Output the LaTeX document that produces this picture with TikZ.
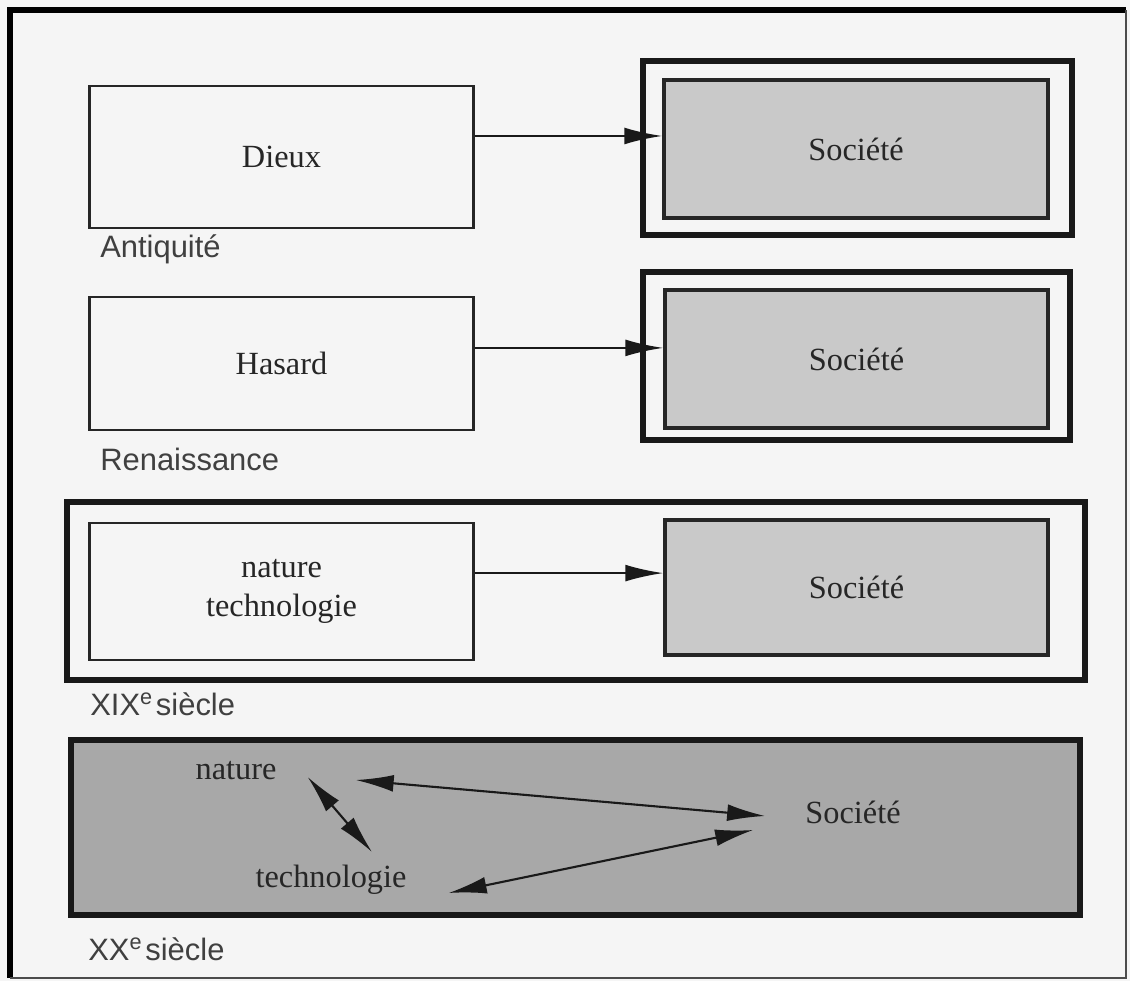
\documentclass[tikz,border=0pt]{standalone}
\usepackage{fontspec}
\setmainfont{Liberation Serif}
\newfontfamily\labelfont{Liberation Sans}
\usetikzlibrary{arrows.meta,calc}

\begin{document}
\begin{tikzpicture}[x=0.025cm, y=-0.025cm,
	box/.style={draw=black!85, line width=2.1pt, inner sep=0pt, text=black!85,
		font=\fontsize{23}{27.7}\selectfont, align=center},
	socbox/.style={box, line width=2.4pt, fill=black!21},
	frame/.style={draw=black!90, line width=3.8pt},
	era/.style={anchor=base west, inner sep=0pt, text=black!75,
		font=\labelfont\fontsize{22}{26}\selectfont},
	word/.style={inner sep=0pt, text=black!85, font=\fontsize{23}{28}\selectfont},
	arr/.style={-{Latex[length=27pt,width=12pt]}, line width=1.5pt, draw=black!90},
	dblarr/.style={{Latex[length=27pt,width=12pt]}-{Latex[length=27pt,width=12pt]},
		line width=1.5pt, draw=black!90}]

	% page
	\fill [black!4] (0,0) rectangle (1130,981);
	\draw [line width=4.3pt] (1126,10) -- (10,10) -- (10,978);
	\draw [line width=1.5pt, black!70] (10,978) -- (1126,978) -- (1126,10);

	% Antiquite
	\node [box, minimum width=9.575cm, minimum height=3.55cm] (dieux) at (281.5,157) {Dieux};
	\draw [frame] (643,61) rectangle (1072,235);
	\node [socbox, minimum width=9.6cm, minimum height=3.45cm] (soc1) at (856,149) {Société};
	\node [era] (ant) at (100,258) {Antiquité};
	\draw [arr] ([yshift=0.525cm]dieux.east) -- ([yshift=0.525cm]dieux.east -| soc1.west);

	% Renaissance
	\node [box, minimum width=9.575cm, minimum height=3.325cm] (hasard) at (281.5,363.5) {Hasard};
	\draw [frame] (643,272) rectangle (1070,440);
	\node [socbox, minimum width=9.575cm, minimum height=3.45cm] (soc2) at (856.5,359) {Société};
	\node [era] (ren) at (100,470) {Renaissance};
	\draw [arr] ([yshift=0.39cm]hasard.east) -- ([yshift=0.39cm]hasard.east -| soc2.west);

	% XIXe siecle
	\draw [frame] (67,502) rectangle (1085,680);
	\node [box, minimum width=9.575cm, minimum height=3.425cm] (natech) at (281.5,591.5) {nature\\technologie};
	\node [socbox, minimum width=9.575cm, minimum height=3.375cm] (soc3) at (856.5,587.5) {Société};
	\node [era] (xix) at (90,715) {XIX\textsuperscript{e}\hspace{0.1em}siècle};
	\draw [arr] ([yshift=0.46cm]natech.east) -- ([yshift=0.46cm]natech.east -| soc3.west);

	% XXe siecle
	\draw [frame, fill=black!34] (71,740) rectangle (1080,915);
	\node [word] (nat4) at (236,771) {nature};
	\node [word] (tech4) at (331,880) {technologie};
	\node [word] (soc4) at (853,812) {Société};
	\node [era] (xx) at (88,960) {XX\textsuperscript{e}\hspace{0.1em}siècle};
	\draw [dblarr] ($(nat4.east)+(31,6)$) -- ($(tech4.north)+(41,-13)$);
	\draw [dblarr] ($(nat4.east)+(79,9)$) -- ($(soc4.west)+(-40,4)$);
	\draw [dblarr] ($(tech4.east)+(42,13)$) -- ($(soc4.west)+(-52,18)$);
\end{tikzpicture}
\end{document}
